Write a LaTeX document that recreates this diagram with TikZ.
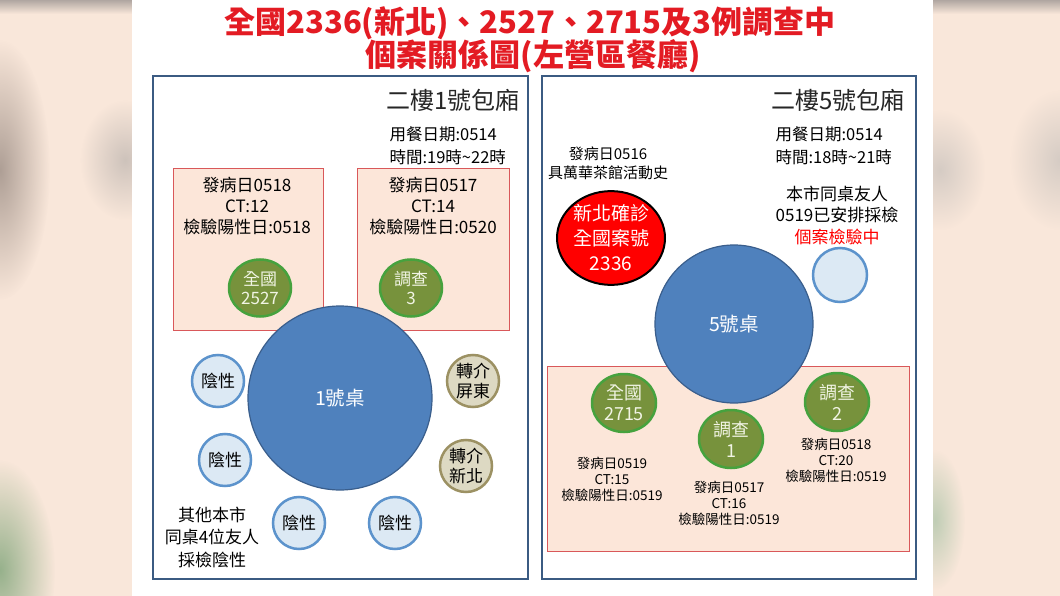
\documentclass[tikz,border=0pt]{standalone}
\usepackage{fontspec}
\setmainfont{Noto Sans CJK TC}
\usetikzlibrary{shapes.geometric,fadings}
\tikzfading[name=softblob,inner color=transparent!30,outer color=transparent!100]
\definecolor{bgpeach}{HTML}{F9E7DA}
\definecolor{bggray}{HTML}{8E8078}
\definecolor{bggreen}{HTML}{6C9A6A}
\definecolor{titlered}{HTML}{E31B23}
\definecolor{roomblue}{HTML}{3B5B82}
\definecolor{boxpink}{HTML}{FCE6D9}
\definecolor{boxred}{HTML}{D9585A}
\definecolor{tableblue}{HTML}{4F81BD}
\definecolor{tableedge}{HTML}{3A5E8C}
\definecolor{negfill}{HTML}{DCE9F4}
\definecolor{negedge}{HTML}{5C93CC}
\definecolor{casegreen}{HTML}{77923C}
\definecolor{caseedge}{HTML}{46A23E}
\definecolor{casetext}{HTML}{F1F4E4}
\definecolor{tanfill}{HTML}{DDD9C3}
\definecolor{tanedge}{HTML}{9C9163}
\definecolor{darktext}{HTML}{262626}
\newcommand{\fs}[2]{\fontsize{#1}{#2}\selectfont}
\tikzset{
  room/.style={draw=roomblue,line width=2pt},
  casebox/.style={draw=boxred,fill=boxpink,line width=0.8pt},
  roomlabel/.style={text=darktext,font=\fs{24}{24}},
  info/.style={align=left,anchor=west,font=\fs{16.5}{23}},
  note/.style={align=center,font=\fs{17}{21}},
  smallnote/.style={align=center,font=\fs{13.5}{16}},
  blur/.style={path fading=softblob},
  tablecirc/.style={circle,draw=tableedge,fill=tableblue,line width=1.2pt,text=white,font=\fs{19.5}{20},inner sep=0pt},
  negcirc/.style={circle,draw=negedge,fill=negfill,line width=2.5pt,minimum size=52pt,inner sep=0pt,font=\fs{17}{20}},
  refercirc/.style={circle,draw=tanedge,fill=tanfill,line width=2.5pt,minimum size=52pt,inner sep=0pt,align=center,font=\fs{17}{20}},
  casecirc/.style={ellipse,draw=caseedge,fill=casegreen,line width=2.5pt,minimum width=62pt,minimum height=57pt,inner sep=0pt,align=center,text=casetext,font=\fs{17}{19}},
}
\begin{document}
\begin{tikzpicture}[x=1pt,y=-1pt]
  \useasboundingbox (0,0) rectangle (1060,596);
  \fill[bgpeach] (0,0) rectangle (1060,596);
  \fill[bggray,blur] (0,170) ellipse (50 and 130);
  \fill[bggray!60,blur] (125,160) ellipse (45 and 60);
  \fill[bggreen,blur] (0,570) ellipse (55 and 110);
  \fill[bggray!50,blur] (940,170) ellipse (45 and 60);
  \fill[bggray!50,blur] (1060,160) ellipse (50 and 70);
  \fill[bggreen!60,blur] (935,520) ellipse (30 and 70);
  \shade[top color=bggray!70,bottom color=bgpeach] (0,0) rectangle (1060,14);
  \fill[white] (132,0) rectangle (933,596);

  \node[text=titlered,font=\fs{31}{31}\bfseries] (title1) at (530,23) {全國2336(新北)、2527、2715及3例調查中};
  \node[text=titlered,font=\fs{31}{31}\bfseries] (title2) at (533,56) {個案關係圖(左營區餐廳)};

  \draw[room] (153,76) rectangle (528,579);
  \draw[room] (542,76) rectangle (916,579);

  \node[roomlabel] (room1) at (453,100) {二樓1號包廂};
  \node[info] (meal1) at (386,146) {用餐日期:0514\\時間:19時\textasciitilde 22時};
  \draw[casebox] (173,168) rectangle (323,330);
  \draw[casebox] (357,168) rectangle (509,330);
  \node[note] (onset2527) at (247,206) {發病日0518\\CT:12\\檢驗陽性日:0518};
  \node[note] (onsetinv3) at (433,206) {發病日0517\\CT:14\\檢驗陽性日:0520};
  \node[casecirc] (case2527) at (260,288) {全國\\2527};
  \node[casecirc] (inv3) at (411,288) {調查\\3};
  \node[tablecirc,minimum size=184pt] (table1) at (340,398) {1號桌};
  \node[negcirc] (neg1) at (218,381) {陰性};
  \node[negcirc] (neg2) at (225,460) {陰性};
  \node[negcirc] (neg3) at (299,523) {陰性};
  \node[negcirc] (neg4) at (395,523) {陰性};
  \node[refercirc] (pingtung) at (473,381) {轉介\\屏東};
  \node[refercirc] (newtaipei) at (466,466) {轉介\\新北};
  \node[note,font=\fs{17}{22.5}] (others) at (212,537) {其他本市\\同桌4位友人\\採檢陰性};

  \node[roomlabel] (room5) at (838,100) {二樓5號包廂};
  \node[info] (meal5) at (772,146) {用餐日期:0514\\時間:18時\textasciitilde 21時};
  \node[note,font=\fs{15}{19}] (teahouse) at (608,163) {發病日0516\\具萬華茶館活動史};
  \node[ellipse,draw=black,fill=red,line width=2pt,minimum width=108pt,minimum height=88pt,inner sep=0pt,align=center,text=white,font=\fs{19}{25}] (case2336) at (611,238) {新北確診\\全國案號\\2336};
  \node[note,font=\fs{17}{21.5}] (friend) at (837,215) {本市同桌友人\\0519已安排採檢\\{\color{red}個案檢驗中}};
  \node[negcirc,minimum size=54pt] (pending) at (840,275) {};
  \draw[casebox] (547,366) rectangle (909,551);
  \node[tablecirc,minimum size=158pt] (table5) at (734,324) {5號桌};
  \node[casecirc,minimum width=64pt,minimum height=58pt,font=\fs{18}{21}] (case2715) at (624,403) {全國\\2715};
  \node[casecirc,minimum width=64pt,minimum height=58pt,font=\fs{18}{21}] (inv1) at (731,439) {調查\\1};
  \node[casecirc,minimum width=64pt,minimum height=58pt,font=\fs{18}{21}] (inv2) at (837,402) {調查\\2};
  \node[smallnote] (onset2715) at (612,479) {發病日0519\\CT:15\\檢驗陽性日:0519};
  \node[smallnote] (onsetinv1) at (729,503) {發病日0517\\CT:16\\檢驗陽性日:0519};
  \node[smallnote] (onsetinv2) at (836,460) {發病日0518\\CT:20\\檢驗陽性日:0519};
\end{tikzpicture}
\end{document}
